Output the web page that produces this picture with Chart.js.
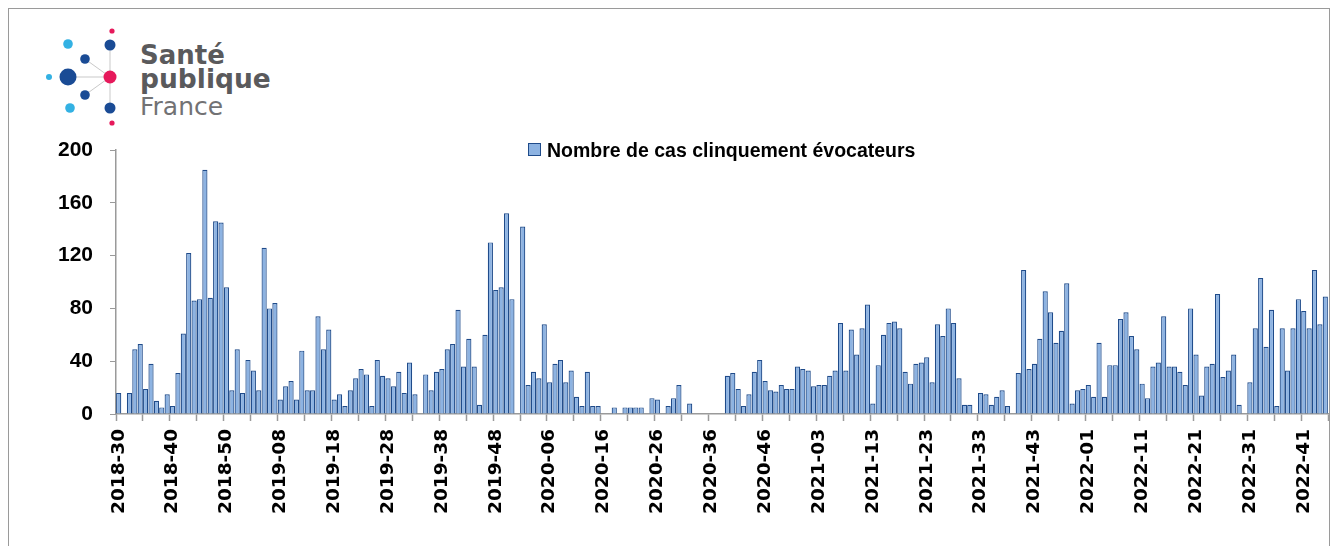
<!DOCTYPE html>
<html>
<head>
<meta charset="utf-8">
<script src="https://cdn.jsdelivr.net/npm/chart.js@4.4.1/dist/chart.umd.min.js"></script>
<style>
  html, body { margin: 0; padding: 0; background: #fff; }
  #wrap { position: relative; width: 1336px; height: 546px; overflow: hidden; }
  #frame { position: absolute; left: 8px; top: 8px; width: 1322px; height: 600px; border: 1px solid #9a9a9a; box-sizing: border-box; }
  #logo { position: absolute; left: 0; top: 0; }
  #chart { position: absolute; left: 0; top: 0; }
</style>
</head>
<body>
<div id="wrap">
  <div id="frame"></div>
  <svg id="logo" width="300" height="140" xmlns="http://www.w3.org/2000/svg">
    <g stroke="#c9c9c9" stroke-width="1">
      <line x1="110" y1="45" x2="110" y2="108"/>
      <line x1="68" y1="77" x2="110" y2="77"/>
      <line x1="85" y1="59" x2="110" y2="77"/>
      <line x1="85" y1="95" x2="110" y2="77"/>
    </g>
    <circle cx="112" cy="31" r="2.6" fill="#e6195b"/>
    <circle cx="110" cy="45" r="5.5" fill="#1a4b95"/>
    <circle cx="68" cy="44" r="4.8" fill="#33b1e3"/>
    <circle cx="85" cy="59" r="4.8" fill="#1a4b95"/>
    <circle cx="49" cy="77" r="3" fill="#33b1e3"/>
    <circle cx="68" cy="77" r="8.5" fill="#1a4b95"/>
    <circle cx="110" cy="77" r="6.5" fill="#e6195b"/>
    <circle cx="85" cy="95" r="4.8" fill="#1a4b95"/>
    <circle cx="70" cy="108" r="4.8" fill="#33b1e3"/>
    <circle cx="110" cy="108" r="5.5" fill="#1a4b95"/>
    <circle cx="112" cy="123" r="2.6" fill="#e6195b"/>
    <text x="140" y="64" font-family="DejaVu Sans" font-weight="bold" font-size="26" fill="#5a5a5c">Santé</text>
    <text x="140" y="88" font-family="DejaVu Sans" font-weight="bold" font-size="26.5" fill="#5a5a5c">publique</text>
    <text x="140" y="115" font-family="DejaVu Sans" font-size="25" fill="#727274">France</text>
  </svg>
  <canvas id="chart" width="1336" height="546"></canvas>
</div>
<script>
// weeks shown: 2018-30 .. 2022-45
var startYear = 2018, startWeek = 30, endYear = 2022, endWeek = 45;
var weeksInYear = { 2018: 52, 2019: 52, 2020: 53, 2021: 52, 2022: 52 };

var tickLabels = ['2018-30', '2018-40', '2018-50', '2019-08', '2019-18', '2019-28', '2019-38',
	'2019-48', '2020-06', '2020-16', '2020-26', '2020-36', '2020-46', '2021-03', '2021-13',
	'2021-23', '2021-33', '2021-43', '2022-01', '2022-11', '2022-21', '2022-31', '2022-41'];

// Nombre de cas, par semaine (null = aucun cas)
var cas2018 = [16, null, 16, 49, 53, 19, 38, 10, 5, 15, 6, 31, 61, 122, 86, 87, 185, 88, 146, 145, 96, 18, 49];
var cas2019 = [16, 41, 33, 18, 126, 80, 84, 11, 21, 25, 11, 48, 18, 18, 74, 49, 64, 11, 15, 6,
	18, 27, 34, 30, 6, 41, 29, 27, 21, 32, 16, 39, 15, null, 30, 18, 32, 34, 49, 53,
	79, 36, 57, 36, 7, 60, 130, 94, 96, 152, 87, null];
var cas2020 = [142, 22, 32, 27, 68, 24, 38, 41, 24, 33, 13, 6, 32, 6, 6, null, null, 5, null, 5,
	5, 5, 5, null, 12, 11, null, 6, 12, 22, null, 8, null, null, null, null, null, null, 29, 31,
	19, 6, 15, 32, 41, 25, 18, 17, 22, 19, 19, 36, 34];
var cas2021 = [33, 21, 22, 22, 29, 33, 69, 33, 64, 45, 65, 83, 8, 37, 60, 69, 70, 65, 32, 23,
	38, 39, 43, 24, 68, 59, 80, 69, 27, 7, 7, null, 16, 15, 7, 13, 18, 6, null, 31,
	109, 34, 38, 57, 93, 77, 54, 63, 99, 8, 18, 19];
var cas2022 = [22, 13, 54, 13, 37, 37, 72, 77, 59, 49, 23, 12, 36, 39, 74, 36, 36, 32, 22, 80,
	45, 14, 36, 38, 91, 28, 33, 45, 7, null, 24, 65, 103, 51, 79, 6, 65, 33, 65, 87,
	78, 65, 109, 68, 89];

var semaines = [];
for (var y = startYear, w = startWeek; y < endYear || (y === endYear && w <= endWeek); w++) {
	if (w > weeksInYear[y]) { y++; w = 1; if (y > endYear) break; }
	semaines.push(y + '-' + (w < 10 ? '0' + w : w));
}
var cas = cas2018.concat(cas2019, cas2020, cas2021, cas2022);

var tickGrey = '#9a9a9a';

/* legende au-dessus du graphique */
var legendPlugin = {
	id: 'topLegend',
	afterDraw: function (chart) {
		var ds = chart.data.datasets[0];
		var ctx = chart.ctx, area = chart.chartArea;
		ctx.save();
		ctx.font = 'bold 19.5px "Liberation Sans"';
		var tw = ctx.measureText(ds.label).width;
		var box = 13, gap = 6;
		var x0 = Math.round((area.left + area.right) / 2 - (box + gap + tw) / 2);
		ctx.fillStyle = ds.backgroundColor;
		ctx.fillRect(x0, 143, box, box);
		ctx.strokeStyle = ds.borderColor;
		ctx.lineWidth = 1;
		ctx.strokeRect(x0 + 0.5, 143.5, box - 1, box - 1);
		ctx.fillStyle = '#000';
		ctx.textBaseline = 'alphabetic';
		ctx.fillText(ds.label, x0 + box + gap, 157);
		ctx.restore();
	}
};

var ctx = document.getElementById('chart').getContext('2d');
var myChart = new Chart(ctx, {
	type: 'bar',
	data: {
		labels: semaines,
		datasets: [{
			label: 'Nombre de cas clinquement évocateurs',
			data: cas,
			backgroundColor: '#8db3e2',
			borderColor: '#1f4b8a',
			borderWidth: 1.2,
			categoryPercentage: 1.0,
			barPercentage: 0.96
		}]
	},
	options: {
		responsive: false,
		animation: false,
		devicePixelRatio: 1,
		layout: {
			padding: { top: 150, right: 8, left: 0, bottom: 0 }
		},
		plugins: {
			legend: { display: false },
			tooltip: { enabled: false }
		},
		scales: {
			x: {
				offset: true,
				afterFit: function (scale) {
					scale.height = 132;
					scale.paddingLeft = 0;
					scale.paddingRight = 0;
				},
				grid: {
					offset: true,
					drawOnChartArea: false,
					drawTicks: true,
					tickLength: 7,
					tickWidth: 1.5,
					tickColor: function (c) {
						return (c.type === 'scale' || c.index % 5 === 0) ? tickGrey : 'rgba(0,0,0,0)';
					}
				},
				border: { display: true, color: tickGrey, width: 1.5 },
				ticks: {
					autoSkip: false,
					minRotation: 90,
					maxRotation: 90,
					padding: 8,
					color: '#000',
					font: { family: 'DejaVu Sans', weight: 'bold', size: 18.5 },
					callback: function (value) {
						var l = this.getLabelForValue(value);
						return tickLabels.indexOf(l) >= 0 ? l : '';
					}
				}
			},
			y: {
				min: 0,
				max: 200,
				afterFit: function (scale) { scale.width = 116; },
				grid: {
					drawOnChartArea: false,
					drawTicks: true,
					tickLength: 6,
					tickColor: tickGrey
				},
				border: { display: true, color: tickGrey, width: 1.5 },
				ticks: {
					stepSize: 40,
					padding: 17,
					color: '#000',
					font: { family: 'Liberation Sans', weight: 'bold', size: 21 }
				}
			}
		}
	},
	plugins: [legendPlugin]
});
</script>
</body>
</html>
